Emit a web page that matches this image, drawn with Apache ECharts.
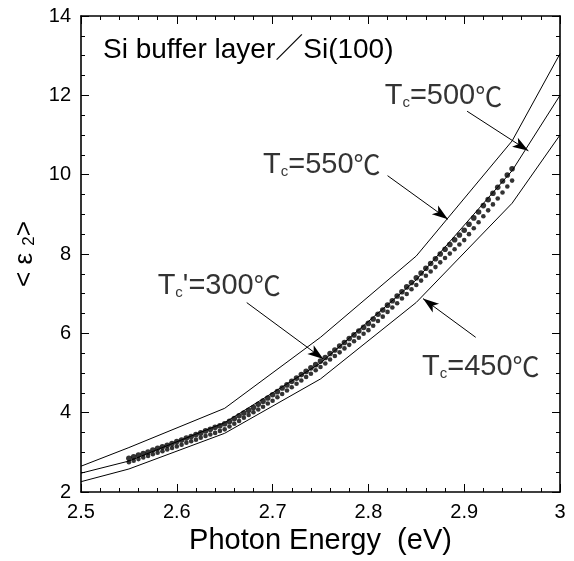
<!DOCTYPE html>
<html><head><meta charset="utf-8">
<script src="https://cdn.jsdelivr.net/npm/echarts@6/dist/echarts.min.js"></script>
<style>html,body{margin:0;padding:0;background:#fff}#c{width:574px;height:561px}</style>
</head><body><div id="c"></div>
<script>
// Model curves (piecewise)
const lineEnergy = [2.5, 2.55, 2.65, 2.75, 2.85, 2.95, 3.0];
const tc550 = [2.65, 3.12, 4.11, 5.9, 7.95, 10.85, 13.05];
const tc500 = [2.475, 2.78, 3.75, 5.25, 7.35, 10.1, 12.0];
const tc450 = [2.26, 2.58, 3.48, 4.85, 6.78, 9.28, 11.0];

// Measured points (Tc' = 300 C), two rows of dots
const dotEnergy = [2.55,2.555,2.56,2.565,2.57,2.575,2.58,2.585,2.59,2.595,
  2.6,2.605,2.61,2.615,2.62,2.625,2.63,2.635,2.64,2.645,
  2.65,2.655,2.66,2.665,2.67,2.675,2.68,2.685,2.69,2.695,
  2.7,2.705,2.71,2.715,2.72,2.725,2.73,2.735,2.74,2.745,
  2.75,2.755,2.76,2.765,2.77,2.775,2.78,2.785,2.79,2.795,
  2.8,2.805,2.81,2.815,2.82,2.825,2.83,2.835,2.84,2.845,
  2.85,2.855,2.86,2.865,2.87,2.875,2.88,2.885,2.89,2.895,
  2.9,2.905,2.91,2.915,2.92,2.925,2.93,2.935,2.94,2.945,2.95];
const dotsUpper = [2.85,2.89,2.93,2.97,3.01,3.06,3.10,3.14,3.18,3.22,
  3.27,3.31,3.36,3.40,3.45,3.49,3.54,3.58,3.63,3.67,
  3.72,3.78,3.85,3.92,3.99,4.06,4.13,4.21,4.29,4.37,
  4.45,4.53,4.62,4.70,4.79,4.87,4.96,5.04,5.13,5.21,
  5.30,5.39,5.49,5.58,5.68,5.77,5.87,5.96,6.06,6.15,
  6.25,6.36,6.48,6.59,6.71,6.82,6.94,7.05,7.17,7.28,
  7.40,7.52,7.64,7.76,7.88,8.00,8.12,8.24,8.36,8.48,
  8.60,8.75,8.91,9.06,9.22,9.37,9.53,9.68,9.84,9.99,10.15];
const dotsLower = [2.75,2.79,2.83,2.87,2.91,2.95,2.99,3.03,3.07,3.11,
  3.15,3.19,3.24,3.28,3.32,3.37,3.41,3.45,3.49,3.54,
  3.58,3.65,3.72,3.79,3.87,3.94,4.01,4.08,4.15,4.23,
  4.30,4.39,4.47,4.56,4.64,4.73,4.81,4.90,4.98,5.07,
  5.15,5.24,5.34,5.43,5.52,5.62,5.71,5.80,5.89,5.99,
  6.08,6.19,6.31,6.42,6.54,6.65,6.76,6.88,6.99,7.11,
  7.22,7.33,7.45,7.56,7.67,7.79,7.90,8.01,8.12,8.24,
  8.35,8.50,8.65,8.80,8.95,9.10,9.25,9.40,9.55,9.70,9.85];

const xTicks = [2.5, 2.6, 2.7, 2.8, 2.9, 3];
const yTicks = [2, 4, 6, 8, 10, 12, 14];

const annotTexts = ['T{s|c}=500{d|℃}', 'T{s|c}=550{d|℃}', "T{s|c}'=300{d|℃}", 'T{s|c}=450{d|℃}'];
const annotAt = [[2.817, 11.975], [2.690, 10.25], [2.580, 7.2], [2.856, 5.15]];
const arrows = [
  [[2.903, 11.6], [2.967, 10.6]],
  [[2.820, 9.975], [2.883, 8.875]],
  [[2.673, 6.775], [2.753, 5.35]],
  [[2.912, 5.9], [2.857, 6.875]]
];

const FONT = '"Liberation Sans", Arial, Helvetica, "Noto Sans CJK JP", sans-serif';
const pair = (xs, ys) => xs.map((x, i) => [x, ys[i]]);

const chart = echarts.init(document.getElementById('c'));
const axisCommon = {
  type: 'value',
  axisLine: { show: true, lineStyle: { color: '#000', width: 1.6 } },
  axisTick: { show: true, inside: true, length: 8, lineStyle: { color: '#000', width: 1 } },
  minorTick: { show: true, length: 4, lineStyle: { color: '#000', width: 1 } },
  splitLine: { show: false },
  minorSplitLine: { show: false }
};
const lineSeries = (name, ys) => ({
  name, type: 'line', data: pair(lineEnergy, ys), symbol: 'none', silent: true,
  lineStyle: { color: '#000', width: 1 }, z: 2
});

chart.setOption({
  animation: false,
  backgroundColor: '#fff',
  title: {
    text: 'Si buffer layer／Si(100)', left: 98, top: 31,
    textStyle: { fontFamily: FONT, fontSize: 28, fontWeight: 'normal', color: '#000' }
  },
  grid: { left: 81, top: 16, right: 14, bottom: 65, containLabel: false },
  xAxis: [
    Object.assign({}, axisCommon, {
      min: 2.5, max: 3, interval: 0.1, position: 'bottom',
      minorTick: Object.assign({}, axisCommon.minorTick, { splitNumber: 5 }),
      axisLabel: { color: '#000', fontFamily: FONT, fontSize: 20, margin: 10,
        formatter: v => { const t = xTicks.find(k => Math.abs(k - v) < 1e-6); return t === undefined ? '' : String(t); } },
      name: 'Photon Energy  (eV)', nameLocation: 'middle', nameGap: 35,
      nameTextStyle: { color: '#000', fontFamily: FONT, fontSize: 29 }
    }),
    Object.assign({}, axisCommon, {
      min: 2.5, max: 3, interval: 0.1, position: 'top',
      minorTick: Object.assign({}, axisCommon.minorTick, { splitNumber: 5 }),
      axisLabel: { show: false }
    })
  ],
  yAxis: [
    Object.assign({}, axisCommon, {
      min: 2, max: 14, interval: 2, position: 'left',
      minorTick: Object.assign({}, axisCommon.minorTick, { splitNumber: 4 }),
      axisLabel: { color: '#000', fontFamily: FONT, fontSize: 20, margin: 10,
        formatter: v => { const t = yTicks.find(k => Math.abs(k - v) < 1e-6); return t === undefined ? '' : String(t); } },
      name: '< {e|ε} {s|2}>', nameLocation: 'middle', nameGap: 42, nameRotate: 90,
      nameTextStyle: { color: '#000', fontFamily: FONT, fontSize: 26,
        rich: {
          e: { fontFamily: FONT, fontSize: 26, color: '#000' },
          s: { fontFamily: FONT, fontSize: 17, color: '#000', verticalAlign: 'bottom', padding: [8, 0, 0, 0] }
        } }
    }),
    Object.assign({}, axisCommon, {
      min: 2, max: 14, interval: 2, position: 'right',
      minorTick: Object.assign({}, axisCommon.minorTick, { splitNumber: 4 }),
      axisLabel: { show: false }
    })
  ],
  series: [
    lineSeries('Tc=550', tc550),
    Object.assign(lineSeries('Tc=500', tc500), {
      markLine: {
        silent: true, symbol: ['none', 'arrow'], symbolSize: [8, 16],
        label: { show: false },
        lineStyle: { color: '#000', width: 1, type: 'solid' },
        data: arrows.map(a => [{ coord: a[0] }, { coord: a[1] }])
      }
    }),
    lineSeries('Tc=450', tc450),
    {
      name: 'lower', type: 'scatter', data: pair(dotEnergy, dotsLower),
      symbol: 'circle', symbolSize: 4.6, itemStyle: { color: '#000' }, silent: true, z: 3
    },
    {
      name: 'upper', type: 'scatter', data: pair(dotEnergy, dotsUpper),
      symbol: 'circle', symbolSize: 5.6, itemStyle: { color: '#000' }, silent: true, z: 3
    },
    {
      name: 'annotations', type: 'scatter', symbolSize: 0, silent: true,
      data: annotAt.map((p, i) => ({ value: p, text: annotTexts[i] })),
      label: {
        show: true, position: 'right', distance: 0, color: '#000',
        formatter: p => p.data.text,
        fontFamily: FONT, fontSize: 29,
        rich: {
          s: { fontFamily: FONT, fontSize: 15, color: '#000', verticalAlign: 'bottom', padding: [12, 0, 0, 0] },
          d: { fontFamily: '"Noto Sans CJK JP", sans-serif', fontSize: 27, color: '#000' }
        }
      }
    }
  ]
});
</script></body></html>
